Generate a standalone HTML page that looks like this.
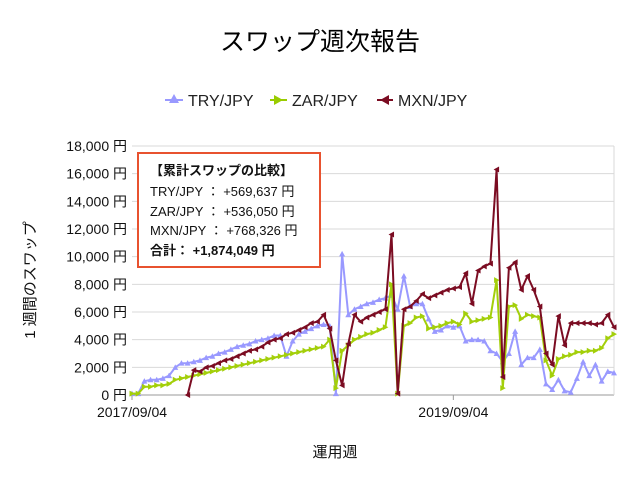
<!DOCTYPE html>
<html><head><meta charset="utf-8">
<style>
body{margin:0;background:#fff;}
svg{display:block;font-family:"Liberation Sans","Noto Sans CJK JP",sans-serif;}
</style></head>
<body>
<svg id="chart" width="640" height="480" viewBox="0 0 640 480" xmlns="http://www.w3.org/2000/svg">
<rect width="640" height="480" fill="#fff"/>
<text x="320" y="50" font-size="25" text-anchor="middle" fill="#000">スワップ週次報告</text>
<g font-size="16" fill="#222">
  <g>
    <line x1="165" y1="100" x2="183" y2="100" stroke="#9999ff" stroke-width="2"/>
    <polygon points="174,94 169,103 179,103" fill="#9999ff"/>
    <text x="188" y="106">TRY/JPY</text>
  </g>
  <g>
    <line x1="270" y1="100" x2="287" y2="100" stroke="#99cc00" stroke-width="2"/>
    <polygon points="283,100 274,95 274,105" fill="#99cc00"/>
    <text x="292" y="106">ZAR/JPY</text>
  </g>
  <g>
    <line x1="377" y1="100" x2="393" y2="100" stroke="#7b0c22" stroke-width="2"/>
    <polygon points="380,100 389,95 389,105" fill="#7b0c22"/>
    <text x="398" y="106">MXN/JPY</text>
  </g>
</g>
<g id="grid"></g>
<g id="yticks" font-size="14" fill="#111"></g>
<g id="xticks" font-size="14" fill="#111"></g>
<text transform="translate(35,280) rotate(-90)" font-size="15" text-anchor="middle" fill="#111">1 週間のスワップ</text>
<text x="335" y="457" font-size="15" text-anchor="middle" fill="#111">運用週</text>
<g id="series"></g>
<g>
  <rect x="138" y="153" width="182" height="114" fill="#fff" stroke="#e8522f" stroke-width="2"/>
  <text x="150" y="175" font-size="13" font-weight="bold" fill="#111">【累計スワップの比較】</text>
  <text x="150" y="196" font-size="13" fill="#111">TRY/JPY ： +569,637 円</text>
  <text x="150" y="216" font-size="13" fill="#111">ZAR/JPY ： +536,050 円</text>
  <text x="150" y="235" font-size="13" fill="#111">MXN/JPY ： +768,326 円</text>
  <text x="150" y="255" font-size="13" font-weight="bold" fill="#111">合計： +1,874,049 円</text>
</g>
</svg>
<script>
const yTicks=[0,2000,4000,6000,8000,10000,12000,14000,16000,18000];
const xTickLabels=["2017/09/04","2019/09/04"];
const xTickIndex=[0,52];
const tryValues=[0.1,0.1,1.0,1.1,1.1,1.2,1.4,2.0,2.3,2.3,2.4,2.5,2.7,2.8,3.0,3.1,3.3,3.5,3.6,3.7,3.9,4.0,4.1,4.3,4.3,2.8,3.9,4.4,4.6,4.8,5.0,5.1,5.0,0.1,10.2,5.8,6.2,6.4,6.6,6.7,6.9,7.0,7.2,6.2,8.6,6.4,6.6,6.6,5.5,4.6,4.7,5.0,4.9,5.0,3.9,4.0,4.0,3.9,3.2,3.0,2.4,3.0,4.6,2.2,2.7,2.7,3.3,0.8,0.4,1.1,0.3,0.2,1.2,2.4,1.4,2.2,1.0,1.7,1.6];
const zarValues=[0.1,0.1,0.6,0.6,0.7,0.7,0.8,1.1,1.2,1.3,1.4,1.5,1.6,1.7,1.8,1.9,2.0,2.1,2.2,2.3,2.4,2.5,2.6,2.7,2.8,2.9,3.0,3.1,3.2,3.3,3.4,3.5,4.0,0.5,3.2,3.6,4.0,4.2,4.4,4.5,4.7,4.9,8.0,0.1,5.0,5.2,5.6,5.7,4.8,4.9,5.0,5.2,5.3,5.1,5.9,5.3,5.4,5.5,5.6,8.3,0.5,6.4,6.5,5.5,5.8,5.7,5.6,2.5,1.4,2.6,2.8,2.9,3.1,3.1,3.2,3.2,3.4,4.1,4.4];
const mxnValues=[null,null,null,null,null,null,null,null,null,0.0,1.8,1.7,2.0,2.1,2.3,2.5,2.6,2.8,3.0,3.2,3.3,3.5,3.8,4.0,4.1,4.4,4.5,4.7,4.9,5.2,5.3,5.8,4.8,2.5,0.7,3.7,5.8,5.3,5.6,5.8,6.0,6.2,11.6,0.1,6.2,6.4,6.8,7.3,7.0,7.2,7.4,7.6,7.7,7.8,8.8,6.6,9.0,9.3,9.5,16.3,1.3,9.2,9.6,7.6,8.6,7.6,6.4,3.0,2.2,5.7,3.6,5.2,5.2,5.2,5.2,5.1,5.2,5.8,4.9];

const NS="http://www.w3.org/2000/svg";
const X0=132,X1=614,Y0=395,Y1=146,N=tryValues.length;
const xPos=i=>X0+(X1-X0)*i/(N-1);
const yPos=v=>Y0-(Y0-Y1)*v/18000;
function mk(tag,attrs,parent){const e=document.createElementNS(NS,tag);for(const k in attrs)e.setAttribute(k,attrs[k]);parent.appendChild(e);return e;}
const grid=document.getElementById('grid'),yt=document.getElementById('yticks'),xt=document.getElementById('xticks'),ser=document.getElementById('series');
yTicks.forEach(v=>{
  const l=mk('line',{x1:X0,x2:X1,y1:yPos(v),y2:yPos(v),stroke:v===0?'#999':'#d9d9d9','stroke-width':1},grid);
  
  
  const t=mk('text',{x:127,y:yPos(v)+5,'text-anchor':'end'},yt);
  t.textContent=v.toLocaleString('en-US')+' 円';
  
  
});
const rb=mk('line',{x1:X1,x2:X1,y1:Y1,y2:Y0,stroke:'#d9d9d9'},grid);


xTickLabels.forEach((lab,k)=>{
  const x=xPos(xTickIndex[k]);
  const tk=mk('line',{x1:x,x2:x,y1:Y0,y2:Y0+5,stroke:'#999'},xt);
  
  
  const t=mk('text',{x:x,y:Y0+22,'text-anchor':'middle'},xt);
  t.textContent=lab;
  
  
});
function marker(type,x,y,color,g){
  let p;
  if(type==='up')p=`${x},${y-3} ${x-3},${y+2.5} ${x+3},${y+2.5}`;
  else if(type==='right')p=`${x+3},${y} ${x-2.5},${y-3} ${x-2.5},${y+3}`;
  else p=`${x-3},${y} ${x+2.5},${y-3} ${x+2.5},${y+3}`;
  const m=mk('polygon',{points:p,fill:color},g);
  
  
}
function drawSeries(vals,color,type,name){
  const g=mk('g',{},ser);
  
  
  let d='';
  vals.forEach((v,i)=>{if(v===null)return;d+=(d?'L':'M')+xPos(i).toFixed(1)+','+yPos(v*1000).toFixed(1);});
  const path=mk('path',{d:d,fill:'none',stroke:color,'stroke-width':2,'stroke-linejoin':'round'},g);
  
  
  vals.forEach((v,i)=>{if(v!==null)marker(type,xPos(i),yPos(v*1000),color,g);});
}
drawSeries(tryValues,'#9999ff','up','series-try');
drawSeries(zarValues,'#a3cf0a','right','series-zar');
drawSeries(mxnValues,'#7b0c22','left','series-mxn');
</script>
</body></html>
